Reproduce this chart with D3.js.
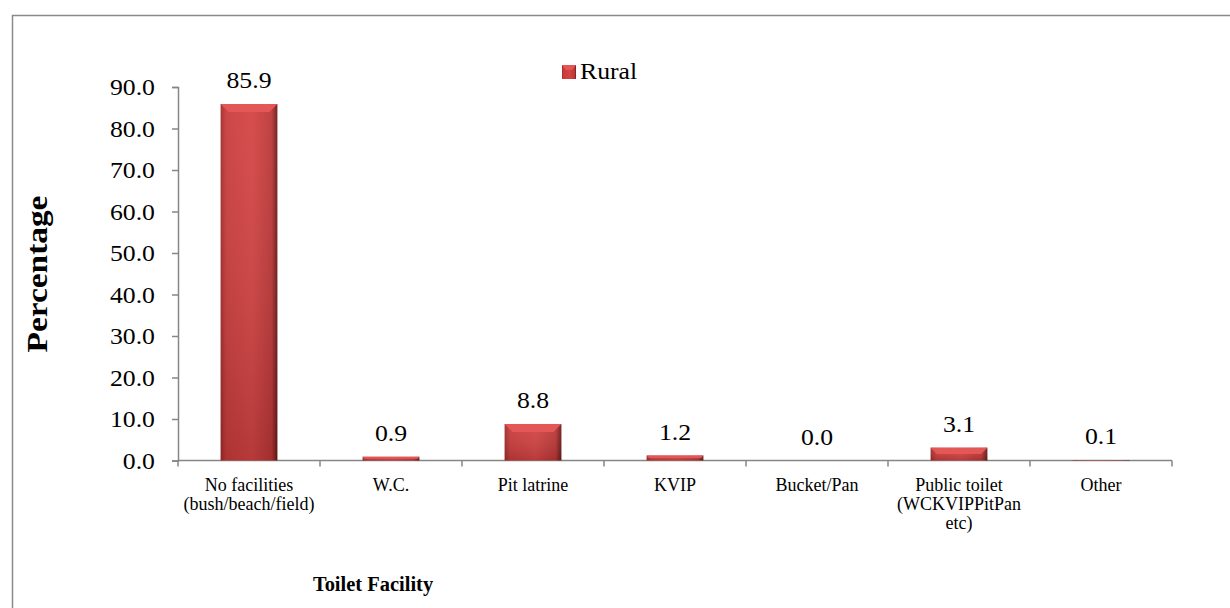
<!DOCTYPE html>
<html>
<head>
<meta charset="utf-8">
<script src="https://cdnjs.cloudflare.com/ajax/libs/d3/7.8.5/d3.min.js"></script>
<style>
  body { margin: 0; background: #fff; }
  text { font-family: "Liberation Serif", "Times New Roman", serif; fill: #000; }
</style>
</head>
<body>
<div id="chart"></div>
<script>
var categories = [
  ["No facilities", "(bush/beach/field)"],
  ["W.C."],
  ["Pit latrine"],
  ["KVIP"],
  ["Bucket/Pan"],
  ["Public toilet", "(WCKVIPPitPan", "etc)"],
  ["Other"]
];
var ruralValues = [85.9, 0.9, 8.8, 1.2, 0.0, 3.1, 0.1];
var yTicks = [0, 10, 20, 30, 40, 50, 60, 70, 80, 90];

(function() {
  var width = 1230,
    height = 608;

  // the original text is a bit wide, so stretch it sideways
  var stretch = 1.12;

  var svg = d3.select("#chart")
    .append("svg")
    .attr("width", width)
    .attr("height", height);

  var defs = svg.append("defs");

  // horizontal shading for the bevelled bars
  var grad = defs.append("linearGradient")
    .attr("id", "barFill")
    .attr("x1", "0").attr("x2", "1").attr("y1", "0").attr("y2", "0");
  grad.append("stop").attr("offset", "0%").attr("stop-color", "#a02a2a");
  grad.append("stop").attr("offset", "10%").attr("stop-color", "#c93b3b");
  grad.append("stop").attr("offset", "55%").attr("stop-color", "#d44343");
  grad.append("stop").attr("offset", "90%").attr("stop-color", "#bb3636");
  grad.append("stop").attr("offset", "100%").attr("stop-color", "#6a1818");

  var vgrad = defs.append("linearGradient")
    .attr("id", "barShade")
    .attr("x1", "0").attr("x2", "0").attr("y1", "0").attr("y2", "1");
  vgrad.append("stop").attr("offset", "0%").attr("stop-color", "#fff").attr("stop-opacity", 0.06);
  vgrad.append("stop").attr("offset", "100%").attr("stop-color", "#000").attr("stop-opacity", 0.14);

  // outer frame (runs off the right and bottom)
  svg.append("rect")
    .attr("x", 12.5)
    .attr("y", 15.5)
    .attr("width", 1240)
    .attr("height", 640)
    .attr("fill", "none")
    .attr("stroke", "#8a8a8a")
    .attr("stroke-width", 1.5);

  var left = 178, right = 1172, top = 87, bottom = 460.5;

  var x = d3.scaleBand()
    .domain(d3.range(categories.length))
    .range([left, right])
    .padding(0);

  var y = d3.scaleLinear()
    .domain([0, 90])
    .range([bottom, top]);

  // y axis
  var yAxis = d3.axisLeft(y)
    .tickValues(yTicks)
    .tickSize(6)
    .tickFormat(d3.format(".1f"));

  var gy = svg.append("g")
    .attr("transform", "translate(" + left + ",0)")
    .call(yAxis);
  gy.attr("font-family", null);
  gy.select(".domain").attr("stroke", "#868686").attr("stroke-width", 1.5);
  gy.selectAll(".tick line").attr("stroke", "#868686").attr("stroke-width", 1.5);
  gy.selectAll(".tick text")
    .attr("x", 0)
    .attr("dy", "0.33em")
    .attr("transform", "translate(-23,0) scale(" + stretch + ",1)")
    .attr("font-size", 23)
    .attr("fill", "#000");

  // x axis line with ticks between categories
  svg.append("line")
    .attr("x1", left).attr("x2", right)
    .attr("y1", bottom).attr("y2", bottom)
    .attr("stroke", "#868686").attr("stroke-width", 1.5);

  var boundaries = d3.range(categories.length + 1).map(function(i) {
    return i < categories.length ? x(i) : right;
  });
  svg.selectAll(".xtick")
    .data(boundaries)
    .enter().append("line")
    .attr("class", "xtick")
    .attr("x1", function(d) { return d; })
    .attr("x2", function(d) { return d; })
    .attr("y1", bottom)
    .attr("y2", bottom + 6)
    .attr("stroke", "#868686").attr("stroke-width", 1.5);

  // category labels
  var catG = svg.selectAll(".cat")
    .data(categories)
    .enter().append("text")
    .attr("class", "cat")
    .attr("text-anchor", "middle")
    .attr("font-size", 18);
  catG.selectAll("tspan")
    .data(function(d, i) { return d.map(function(s) { return { s: s, i: i }; }); })
    .enter().append("tspan")
    .attr("x", function(d) { return x(d.i) + x.bandwidth() / 2; })
    .attr("y", function(d, j) { return 491 + j * 19; })
    .text(function(d) { return d.s; });

  // bars
  var barW = x.bandwidth() * 0.4;
  var bars = svg.selectAll(".bar")
    .data(ruralValues)
    .enter().append("g")
    .attr("class", "bar");

  bars.append("rect")
    .attr("x", function(d, i) { return x(i) + (x.bandwidth() - barW) / 2; })
    .attr("y", function(d) { return y(d); })
    .attr("width", barW)
    .attr("height", function(d) { return bottom - y(d); })
    .attr("fill", "url(#barFill)");

  bars.append("rect")
    .attr("x", function(d, i) { return x(i) + (x.bandwidth() - barW) / 2; })
    .attr("y", function(d) { return y(d); })
    .attr("width", barW)
    .attr("height", function(d) { return bottom - y(d); })
    .attr("fill", "url(#barShade)");

  // lighter bevel along the top edge
  bars.append("path")
    .attr("d", function(d, i) {
      var h = bottom - y(d);
      if (h < 1) return null;
      var b = Math.min(8, h / 2);
      var x0 = x(i) + (x.bandwidth() - barW) / 2, x1 = x0 + barW, y0 = y(d);
      return "M" + x0 + "," + y0 + "L" + x1 + "," + y0 +
        "L" + (x1 - b) + "," + (y0 + b) + "L" + (x0 + b) + "," + (y0 + b) + "Z";
    })
    .attr("fill", "#e35757");

  // value labels
  svg.selectAll(".val")
    .data(ruralValues)
    .enter().append("text")
    .attr("class", "val")
    .attr("transform", function(d, i) {
      return "translate(" + (x(i) + x.bandwidth() / 2) + "," + (y(d) - 16) + ") scale(" + stretch + ",1)";
    })
    .attr("text-anchor", "middle")
    .attr("font-size", 23)
    .text(function(d) { return d3.format(".1f")(d); });

  // legend
  var legend = svg.append("g").attr("transform", "translate(562,65)");
  legend.append("rect")
    .attr("width", 14).attr("height", 14)
    .attr("fill", "url(#barFill)");
  legend.append("path")
    .attr("d", "M0,0L14,0L10,5L4,5Z")
    .attr("fill", "#e35757");
  legend.append("text")
    .attr("transform", "translate(18,14) scale(" + stretch + ",1)")
    .attr("font-size", 23)
    .text("Rural");

  // axis titles
  svg.append("text")
    .attr("transform", "translate(47,274) rotate(-90) scale(1.15,1)")
    .attr("text-anchor", "middle")
    .attr("font-size", 29)
    .attr("font-weight", "bold")
    .text("Percentage");

  svg.append("text")
    .attr("transform", "translate(373,591) scale(0.93,1)")
    .attr("text-anchor", "middle")
    .attr("font-size", 22)
    .attr("font-weight", "bold")
    .text("Toilet Facility");
})();
</script>
</body>
</html>
